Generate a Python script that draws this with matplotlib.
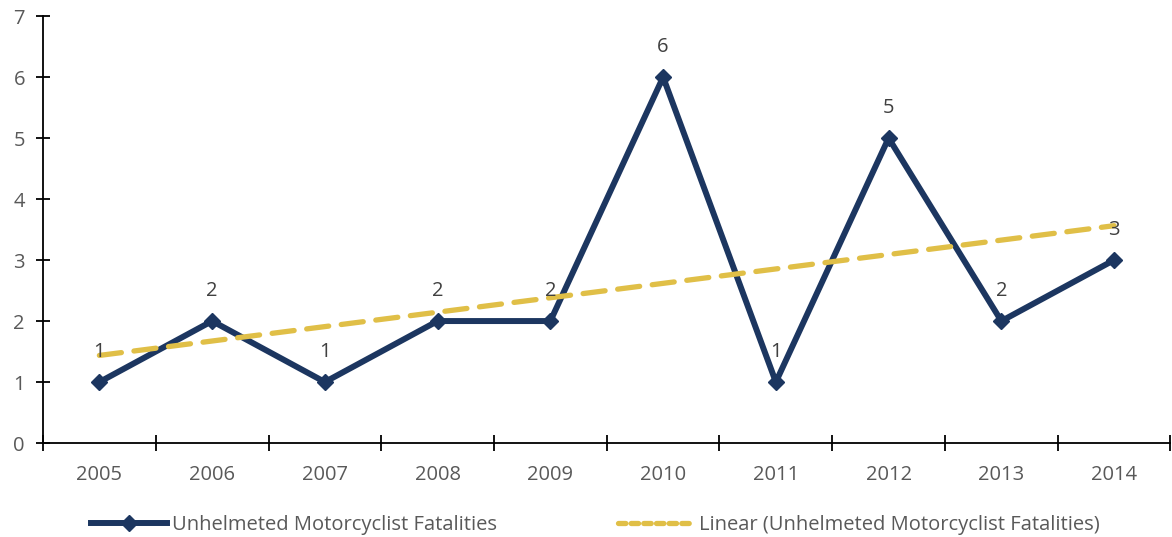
import numpy as np
import matplotlib.pyplot as plt
from matplotlib.lines import Line2D

# données
annees = ['2005', '2006', '2007', '2008', '2009', '2010', '2011', '2012', '2013', '2014']
deces = [1, 2, 1, 2, 2, 6, 1, 5, 2, 3]
y_ticks = [0, 1, 2, 3, 4, 5, 6, 7]

nom_serie = 'Unhelmeted Motorcyclist Fatalities'
nom_tendance = 'Linear (Unhelmeted Motorcyclist Fatalities)'

bleu = '#1C3660'
jaune = '#E0BF47'
gris = '#595959'
taille = 14.5

plt.rcParams['font.family'] = ['Open Sans', 'DejaVu Sans']

fig = plt.figure(figsize=(11.72, 5.37), dpi=100)
ax = fig.add_axes([0.0367, 0.175, 0.962, 0.795])

x = np.arange(len(annees))
ax.plot(x, deces, color=bleu, linewidth=4.3, marker='D', markersize=8,
        solid_joinstyle='miter', zorder=3)

# tendance linéaire (comme Excel)
pente, ordonnee = np.polyfit(x, deces, 1)
ax.plot(x, pente * x + ordonnee, color=jaune, linewidth=3.8,
        dashes=(4.2, 2.4), dash_capstyle='round', zorder=4)

for xi, v in zip(x, deces):
    ax.annotate(str(v), (xi, v), xytext=(0, 21.5), textcoords='offset points',
                ha='center', va='center', fontsize=taille, color='#404040', zorder=5)

ax.set_xlim(-0.5, len(annees) - 0.5)
ax.set_ylim(0, 7)
ax.set_yticks(y_ticks)
ax.set_xticks(x)
ax.set_xticklabels(annees)
ax.set_xticks(np.arange(-0.5, len(annees)), minor=True)
ax.tick_params(axis='x', which='major', length=0, pad=16, labelsize=taille, labelcolor=gris)
ax.tick_params(axis='x', which='minor', direction='inout', length=12, width=1.3, color='black')
ax.tick_params(axis='y', direction='inout', length=10, width=1.3, pad=8,
               labelsize=taille, labelcolor=gris)

for s in ['top', 'right']:
    ax.spines[s].set_visible(False)
for s in ['left', 'bottom']:
    ax.spines[s].set_linewidth(1.3)
ax.spines['left'].set_bounds(0, 7)

poignees = [
    Line2D([], [], color=bleu, linewidth=4.3, marker='D', markersize=8),
    Line2D([], [], color=jaune, linewidth=3.8, dashes=(1.4, 1.0), dash_capstyle='round'),
]
fig.legend(poignees, [nom_serie, nom_tendance], loc='lower center',
           bbox_to_anchor=(0.508, -0.03), ncol=2, frameon=False, fontsize=taille,
           labelcolor=gris, handlelength=3.8, handletextpad=0.25, columnspacing=6.0)

fig.savefig('out.png', dpi=100)
